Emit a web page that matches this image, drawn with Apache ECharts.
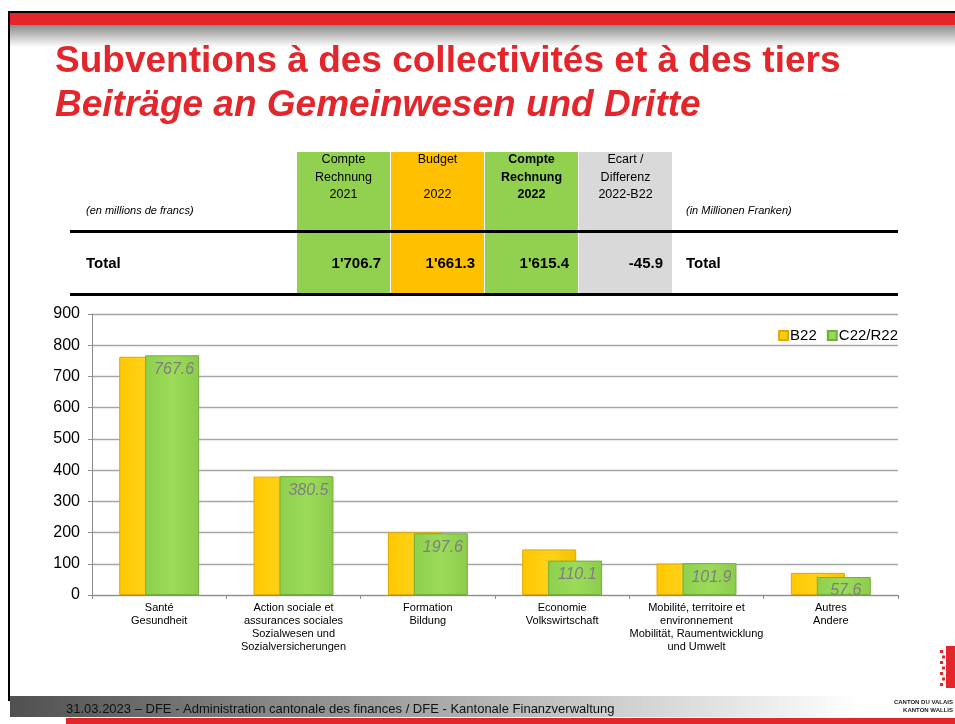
<!DOCTYPE html>
<html>
<head>
<meta charset="utf-8">
<script src="https://cdn.jsdelivr.net/npm/echarts@6/dist/echarts.min.js"></script>
<style>
html,body{margin:0;padding:0;background:#fff;}
#c{width:955px;height:724px;}
</style>
</head>
<body>
<div id="c"></div>
<script>
// ---- Data ----
var categories = [
  'Santé\nGesundheit',
  'Action sociale et\nassurances sociales\nSozialwesen und\nSozialversicherungen',
  'Formation\nBildung',
  'Economie\nVolkswirtschaft',
  'Mobilité, territoire et\nenvironnement\nMobilität, Raumentwicklung\nund Umwelt',
  'Autres\nAndere'
];
var seriesNames = ['B22', 'C22/R22'];
var budget2022 = [763, 379, 201, 146, 101, 71];
var compte2022 = [767.6, 380.5, 197.6, 110.1, 101.9, 57.6];
var yTicks = { min: 0, max: 900, interval: 100 };

var tableHeaders = [
  ['Compte', 'Rechnung', '2021'],
  ['Budget', '', '2022'],
  ['Compte', 'Rechnung', '2022'],
  ['Ecart /', 'Differenz', '2022-B22']
];
var tableTotals = ["1'706.7", "1'661.3", "1'615.4", "-45.9"];
var tableColors = ['#92d050', '#ffc000', '#92d050', '#d9d9d9'];
var tableBold = [false, false, true, false];

var titleFr = 'Subventions à des collectivités et à des tiers';
var titleDe = 'Beiträge an Gemeinwesen und Dritte';
var footerText = '31.03.2023 – DFE - Administration cantonale des finances / DFE - Kantonale Finanzverwaltung';

// ---- Chrome ----
var FONT = 'Liberation Sans, Arial, sans-serif';
var RED = '#e3262b';
var g = [];
// top shadow gradient
g.push({type:'rect', shape:{x:10,y:25,width:945,height:22}, style:{fill:new echarts.graphic.LinearGradient(0,0,0,1,[{offset:0,color:'#8a8a8a'},{offset:1,color:'#ffffff'}])}, silent:true});
// black border
g.push({type:'rect', shape:{x:8,y:11,width:947,height:2}, style:{fill:'#000'}});
g.push({type:'rect', shape:{x:8,y:11,width:2,height:690}, style:{fill:'#000'}});
// red band
g.push({type:'rect', shape:{x:10,y:13,width:945,height:12}, style:{fill:RED}});
// titles
g.push({type:'text', x:55, y:62, style:{text:titleFr, font:'bold 37px ' + FONT, fill:RED, verticalAlign:'middle'}});
g.push({type:'text', x:55, y:106, style:{text:titleDe, font:'italic bold 37px ' + FONT, fill:RED, verticalAlign:'middle'}});

// table
var colX = [297, 391, 485, 579];
var colW = 93;
for (var i = 0; i < 4; i++) {
  g.push({type:'rect', shape:{x:colX[i], y:152, width:colW, height:142}, style:{fill:tableColors[i]}});
  var fw = tableBold[i] ? 'bold ' : '';
  for (var j = 0; j < 3; j++) {
    if (!tableHeaders[i][j]) continue;
    g.push({type:'text', x:colX[i] + colW/2, y:160 + j*17.5, style:{text:tableHeaders[i][j], font:fw + '12.5px ' + FONT, fill:'#000', align:'center', verticalAlign:'middle'}});
  }
  g.push({type:'text', x:colX[i] + colW - 9, y:264, style:{text:tableTotals[i], font:'bold 15px ' + FONT, fill:'#000', align:'right', verticalAlign:'middle'}});
}
g.push({type:'rect', shape:{x:70,y:230,width:828,height:3}, style:{fill:'#000'}});
g.push({type:'rect', shape:{x:70,y:293,width:828,height:3}, style:{fill:'#000'}});
g.push({type:'text', x:86, y:211, style:{text:'(en millions de francs)', font:'italic 11px ' + FONT, fill:'#000', verticalAlign:'middle'}});
g.push({type:'text', x:686, y:211, style:{text:'(in Millionen Franken)', font:'italic 11px ' + FONT, fill:'#000', verticalAlign:'middle'}});
g.push({type:'text', x:86, y:264, style:{text:'Total', font:'bold 15px ' + FONT, fill:'#000', verticalAlign:'middle'}});
g.push({type:'text', x:686, y:264, style:{text:'Total', font:'bold 15px ' + FONT, fill:'#000', verticalAlign:'middle'}});

// footer
g.push({type:'rect', shape:{x:10,y:696,width:945,height:21}, style:{fill:new echarts.graphic.LinearGradient(0,0,1,0,[{offset:0,color:'#505050'},{offset:0.55,color:'#bdbdbd'},{offset:0.9,color:'#ffffff'},{offset:1,color:'#ffffff'}])}});
g.push({type:'rect', shape:{x:66,y:718,width:889,height:6}, style:{fill:RED}});
g.push({type:'text', x:66, y:709, style:{text:footerText, font:'13px ' + FONT, fill:'#111', verticalAlign:'middle'}});
g.push({type:'text', x:46, y:722, style:{text:'20', font:'12px ' + FONT, fill:'#fff', verticalAlign:'top'}});
// logo
g.push({type:'rect', shape:{x:946,y:646,width:9,height:42}, style:{fill:RED}});
for (var k = 0; k < 7; k++) {
  g.push({type:'rect', shape:{x:940 + (k%2)*2, y:650 + k*5.5, width:3, height:3}, style:{fill:RED}});
}
g.push({type:'text', x:953, y:702, style:{text:'CANTON DU VALAIS', font:'bold 6px ' + FONT, fill:'#222', align:'right', verticalAlign:'middle'}});
g.push({type:'text', x:953, y:710, style:{text:'KANTON WALLIS', font:'bold 6px ' + FONT, fill:'#222', align:'right', verticalAlign:'middle'}});

var yellowFill = new echarts.graphic.LinearGradient(0,0,1,0,[{offset:0,color:'#ffc800'},{offset:0.5,color:'#ffd21a'},{offset:1,color:'#f5c000'}]);
var greenFill = new echarts.graphic.LinearGradient(0,0,1,0,[{offset:0,color:'#8dcf4e'},{offset:0.5,color:'#9cdb5a'},{offset:1,color:'#8ccc4c'}]);

var chart = echarts.init(document.getElementById('c'), null, {renderer:'canvas'});
chart.setOption({
  animation: false,
  backgroundColor: '#fff',
  graphic: g,
  legend: {
    data: seriesNames,
    right: 52, top: 323,
    itemWidth: 9, itemHeight: 9, itemGap: 10,
    icon: 'rect',
    textStyle: {fontFamily: FONT, fontSize: 15, color: '#000', padding:[0,0,0,-3]}
  },
  grid: {left: 92, right: 57, top: 314, bottom: 129, containLabel: false},
  xAxis: {
    type: 'category',
    data: categories,
    axisLine: {lineStyle: {color: '#8c8c8c', width: 1}},
    axisTick: {show: true, length: 4, lineStyle: {color: '#8c8c8c'}},
    axisLabel: {interval: 0, fontFamily: FONT, fontSize: 11, lineHeight: 13, color: '#000', margin: 6}
  },
  yAxis: {
    type: 'value',
    min: yTicks.min, max: yTicks.max, interval: yTicks.interval,
    axisLine: {show: true, lineStyle: {color: '#8c8c8c'}},
    axisTick: {show: true, length: 4, lineStyle: {color: '#8c8c8c'}},
    splitLine: {lineStyle: {color: '#a6a6a6', width: 1.3}},
    axisLabel: {fontFamily: FONT, fontSize: 16, color: '#000', margin: 12}
  },
  series: [
    {
      name: seriesNames[0], type: 'bar', data: budget2022,
      barWidth: 54, barGap: '-52%',
      itemStyle: {color: yellowFill, borderColor: '#e0a800', borderWidth: 1}
    },
    {
      name: seriesNames[1], type: 'bar', data: compte2022,
      barWidth: 54,
      itemStyle: {color: greenFill, borderColor: '#74ad3a', borderWidth: 1},
      label: {show: true, position: 'insideTop', distance: 6, offset:[2,0], fontFamily: FONT, fontStyle: 'italic', fontSize: 16, color: '#7f7f7f'}
    }
  ]
});
</script>
</body>
</html>
